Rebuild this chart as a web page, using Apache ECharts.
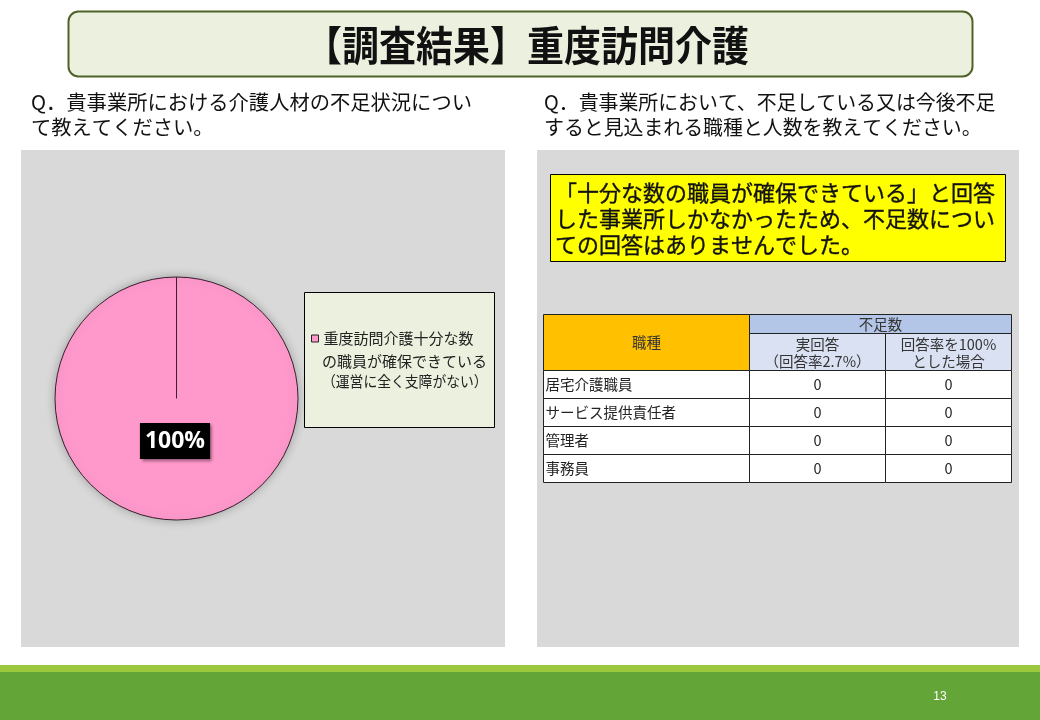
<!DOCTYPE html>
<html>
<head>
<meta charset="utf-8">
<script src="https://cdn.jsdelivr.net/npm/echarts@6/dist/echarts.min.js"></script>
<style>
html,body{margin:0;padding:0;background:#fff;}
#chart{width:1040px;height:720px;}
</style>
</head>
<body>
<div id="chart"></div>
<script>
// ---- data ----
const slideTitle = '【調査結果】重度訪問介護';
const questionLeft = ['Q．貴事業所における介護人材の不足状況につい', 'て教えてください。'];
const questionRight = ['Q．貴事業所において、不足している又は今後不足', 'すると見込まれる職種と人数を教えてください。'];
const noteLines = ['「十分な数の職員が確保できている」と回答', 'した事業所しかなかったため、不足数につい', 'ての回答はありませんでした。'];
const pieNames = ['重度訪問介護十分な数\nの職員が確保できている\n（運営に全く支障がない）'];
const pieValues = [100];
const tableHeadJob = '職種';
const tableHeadGroup = '不足数';
const tableHeadCols = ['実回答\n（回答率2.7%）', '回答率を100%\nとした場合'];
const jobs = ['居宅介護職員', 'サービス提供責任者', '管理者', '事務員'];
const shortageActual = [0, 0, 0, 0];
const shortageFull = [0, 0, 0, 0];
const pageNumber = '13';

// ---- layout constants ----
const JP = '"Noto Sans CJK JP", "Noto Sans", sans-serif';
const PIE_C = [176.5, 398.5];
const PIE_R = 121.5;

const chart = echarts.init(document.getElementById('chart'), null, {renderer: 'canvas'});

const g = [];
// title box
g.push({type: 'rect', shape: {x: 68.5, y: 11.5, width: 904, height: 65, r: 10},
  style: {fill: '#ebf1de', stroke: '#4f6228', lineWidth: 2}, z: 1});
g.push({type: 'text', x: 527, y: 46, scaleY: 1.1, originX: 0, originY: 0,
  style: {text: slideTitle, font: 'bold 37px ' + JP, fill: '#111', align: 'center', verticalAlign: 'middle'}, z: 2});
// questions
questionLeft.forEach((t, i) => g.push({type: 'text', x: 31, y: 102 + i * 25,
  style: {text: t, font: '20.3px ' + JP, fill: '#111', verticalAlign: 'middle'}, z: 2}));
questionRight.forEach((t, i) => g.push({type: 'text', x: 544, y: 102 + i * 25,
  style: {text: t, font: '19.9px ' + JP, fill: '#111', verticalAlign: 'middle'}, z: 2}));
// panels
g.push({type: 'rect', shape: {x: 21, y: 150, width: 484, height: 497}, style: {fill: '#d9d9d9'}, z: 0});
g.push({type: 'rect', shape: {x: 537, y: 150, width: 482, height: 497}, style: {fill: '#d9d9d9'}, z: 0});
// legend box
g.push({type: 'rect', shape: {x: 304.5, y: 292.5, width: 190, height: 135},
  style: {fill: '#ebf1de', stroke: '#000', lineWidth: 1}, z: 1});
// continuation lines of the legend entry (first line drawn by the legend itself)
const legendLines = pieNames[0].split('\n');
legendLines.slice(1).forEach((t, i) => g.push({type: 'text', x: 322, y: 341 + (i + 1) * 20,
  scaleX: i === 1 ? 0.92 : 1, originX: 0, originY: 0,
  style: {text: t, font: '15px ' + JP, fill: '#222', verticalAlign: 'middle'}, z: 2}));
// pie radial edge (start of the single slice)
g.push({type: 'line', shape: {x1: PIE_C[0], y1: PIE_C[1] - PIE_R, x2: PIE_C[0], y2: PIE_C[1]},
  style: {stroke: '#3a1f2c', lineWidth: 1}, z: 5});
// yellow note
g.push({type: 'rect', shape: {x: 550.5, y: 174.5, width: 455, height: 87},
  style: {fill: '#ffff00', stroke: '#000', lineWidth: 1}, z: 1});
noteLines.forEach((t, i) => g.push({type: 'text', x: 555, y: 193 + i * 26,
  style: {text: t, font: '22px ' + JP, fill: '#111', stroke: '#111', lineWidth: 0.35, verticalAlign: 'middle'}, z: 2}));

// table
const colX = [543.5, 749.5, 885.5, 1011.5];
const rowY = [314.5, 333.5, 370.5, 398.5, 426.5, 454.5, 482.5];
const tfont = '14.5px ' + JP;
g.push({type: 'rect', shape: {x: colX[0], y: rowY[0], width: colX[1] - colX[0], height: rowY[2] - rowY[0]},
  style: {fill: '#ffc000', stroke: '#222', lineWidth: 1}, z: 1});
g.push({type: 'rect', shape: {x: colX[1], y: rowY[0], width: colX[3] - colX[1], height: rowY[1] - rowY[0]},
  style: {fill: '#b4c6e7', stroke: '#222', lineWidth: 1}, z: 1});
for (let c = 1; c < 3; c++) {
  g.push({type: 'rect', shape: {x: colX[c], y: rowY[1], width: colX[c + 1] - colX[c], height: rowY[2] - rowY[1]},
    style: {fill: '#d9e1f2', stroke: '#222', lineWidth: 1}, z: 1});
  g.push({type: 'text', x: (colX[c] + colX[c + 1]) / 2, y: (rowY[1] + rowY[2]) / 2 + 1,
    style: {text: tableHeadCols[c - 1], font: tfont, lineHeight: 17, fill: '#333', align: 'center', verticalAlign: 'middle'}, z: 2});
}
g.push({type: 'text', x: (colX[0] + colX[1]) / 2, y: (rowY[0] + rowY[2]) / 2, style: {text: tableHeadJob, font: tfont, fill: '#333', align: 'center', verticalAlign: 'middle'}, z: 2});
g.push({type: 'text', x: (colX[1] + colX[3]) / 2, y: (rowY[0] + rowY[1]) / 2, style: {text: tableHeadGroup, font: tfont, fill: '#333', align: 'center', verticalAlign: 'middle'}, z: 2});
jobs.forEach((job, i) => {
  const y0 = rowY[2 + i], y1 = rowY[3 + i], ym = (y0 + y1) / 2;
  const vals = [job, String(shortageActual[i]), String(shortageFull[i])];
  for (let c = 0; c < 3; c++) {
    g.push({type: 'rect', shape: {x: colX[c], y: y0, width: colX[c + 1] - colX[c], height: y1 - y0},
      style: {fill: '#fff', stroke: '#222', lineWidth: 1}, z: 1});
    g.push({type: 'text', x: c === 0 ? colX[0] + 2 : (colX[c] + colX[c + 1]) / 2, y: ym,
      style: {text: vals[c], font: tfont, fill: '#222', align: c === 0 ? 'left' : 'center', verticalAlign: 'middle'}, z: 2});
  }
});
// bottom bar
g.push({type: 'rect', shape: {x: 0, y: 665, width: 1040, height: 7}, style: {fill: '#9bc83c'}, z: 1});
g.push({type: 'rect', shape: {x: 0, y: 672, width: 1040, height: 48}, style: {fill: '#63a537'}, z: 1});
g.push({type: 'text', x: 940, y: 697, style: {text: pageNumber, font: '12px "Liberation Sans Narrow", "Liberation Sans", sans-serif', fill: '#fff', align: 'center', verticalAlign: 'middle'}, z: 2});

chart.setOption({
  animation: false,
  backgroundColor: '#ffffff',
  graphic: {elements: g},
  legend: {
    orient: 'vertical',
    left: 311,
    top: 331,
    padding: 0,
    itemWidth: 7,
    itemHeight: 7,
    itemGap: 4,
    icon: 'rect',
    selectedMode: false,
    data: pieNames,
    formatter: (name) => name.split('\n')[0],
    itemStyle: {borderColor: '#222', borderWidth: 1},
    textStyle: {fontFamily: JP, fontSize: 15, color: '#222'}
  },
  series: [{
    type: 'pie',
    center: PIE_C,
    radius: PIE_R,
    startAngle: 90,
    clockwise: true,
    silent: true,
    z: 3,
    itemStyle: {color: '#ff99cc', borderColor: '#3a1f2c', borderWidth: 1,
      shadowBlur: 10, shadowColor: 'rgba(0,0,0,0.25)'},
    label: {
      show: true, position: 'center', offset: [-1.5, 42.5],
      formatter: '{d}%',
      color: '#fff', fontWeight: 'bold', fontSize: 23, fontFamily: '"Open Sans", sans-serif',
      lineHeight: 26, backgroundColor: '#000', padding: [5, 5, 5, 5],
      shadowColor: 'rgba(0,0,0,0.45)', shadowBlur: 3, shadowOffsetX: 2, shadowOffsetY: 2
    },
    labelLine: {show: false},
    emphasis: {disabled: true},
    data: pieNames.map((n, i) => ({name: n, value: pieValues[i]}))
  }]
});
</script>
</body>
</html>
